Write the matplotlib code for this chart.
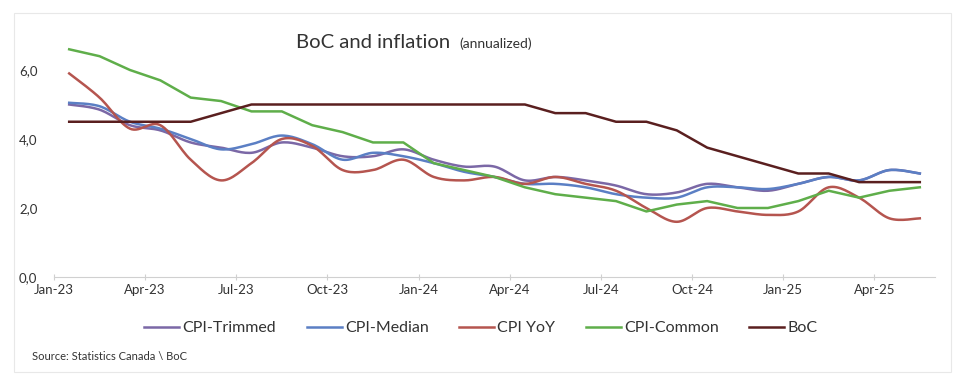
import numpy as np
import matplotlib
matplotlib.use('Agg')
import matplotlib.pyplot as plt
from matplotlib.patches import Rectangle

# monthly, Jan-23 .. May-25
months = ['Jan-23', 'Feb-23', 'Mar-23', 'Apr-23', 'May-23', 'Jun-23',
          'Jul-23', 'Aug-23', 'Sep-23', 'Oct-23', 'Nov-23', 'Dec-23',
          'Jan-24', 'Feb-24', 'Mar-24', 'Apr-24', 'May-24', 'Jun-24',
          'Jul-24', 'Aug-24', 'Sep-24', 'Oct-24', 'Nov-24', 'Dec-24',
          'Jan-25', 'Feb-25', 'Mar-25', 'Apr-25', 'May-25']

cpi_trimmed = [5.0, 4.85, 4.4, 4.25, 3.9, 3.75, 3.6, 3.9, 3.75, 3.5, 3.5, 3.7,
               3.4, 3.2, 3.2, 2.8, 2.9, 2.8, 2.65, 2.4, 2.45, 2.7, 2.6, 2.5,
               2.7, 2.9, 2.8, 3.1, 3.0]
cpi_median = [5.05, 4.95, 4.5, 4.3, 4.0, 3.7, 3.85, 4.1, 3.85, 3.4, 3.6, 3.5,
              3.3, 3.05, 2.9, 2.7, 2.7, 2.6, 2.4, 2.3, 2.3, 2.6, 2.6, 2.55,
              2.7, 2.9, 2.8, 3.1, 3.0]
cpi_yoy = [5.9, 5.2, 4.3, 4.4, 3.4, 2.8, 3.3, 4.0, 3.8, 3.1, 3.1, 3.4,
           2.9, 2.8, 2.9, 2.7, 2.9, 2.7, 2.5, 2.0, 1.6, 2.0, 1.9, 1.8,
           1.9, 2.6, 2.3, 1.7, 1.7]
cpi_common = [6.6, 6.4, 6.0, 5.7, 5.2, 5.1, 4.8, 4.8, 4.4, 4.2, 3.9, 3.9,
              3.3, 3.1, 2.9, 2.6, 2.4, 2.3, 2.2, 1.9, 2.1, 2.2, 2.0, 2.0,
              2.2, 2.5, 2.3, 2.5, 2.6]
boc_rate = [4.5, 4.5, 4.5, 4.5, 4.5, 4.75, 5.0, 5.0, 5.0, 5.0, 5.0, 5.0,
            5.0, 5.0, 5.0, 5.0, 4.75, 4.75, 4.5, 4.5, 4.25, 3.75, 3.5, 3.25,
            3.0, 3.0, 2.75, 2.75, 2.75]

tick_labels = ['Jan-23', 'Apr-23', 'Jul-23', 'Oct-23', 'Jan-24',
               'Apr-24', 'Jul-24', 'Oct-24', 'Jan-25', 'Apr-25']


def smooth(x, y, n=16):
    # excel style smoothed line (catmull-rom bezier)
    x = np.asarray(x, float)
    y = np.asarray(y, float)
    px = np.concatenate([[x[0]], x, [x[-1]]])
    py = np.concatenate([[y[0]], y, [y[-1]]])
    t = np.linspace(0, 1, n)[:, None]
    xs, ys = [], []
    for i in range(1, len(px) - 2):
        pts = []
        for p in (px, py):
            p0, p1, p2, p3 = p[i - 1], p[i], p[i + 1], p[i + 2]
            c1 = p1 + (p2 - p0) / 6
            c2 = p2 - (p3 - p1) / 6
            b = ((1 - t) ** 3 * p1 + 3 * (1 - t) ** 2 * t * c1
                 + 3 * (1 - t) * t ** 2 * c2 + t ** 3 * p2)
            pts.append(b.ravel())
        xs.append(pts[0])
        ys.append(pts[1])
    return np.concatenate(xs), np.concatenate(ys)


plt.rcParams['font.family'] = ['Lato', 'DejaVu Sans']

fig = plt.figure(figsize=(9.66, 3.91), dpi=100)
fig.patches.append(Rectangle((14 / 966, 1 - 372 / 391), (951 - 14) / 966,
                             (372 - 13) / 391, transform=fig.transFigure,
                             fill=False, ec='#e8e8e8', lw=0.8))
ax = fig.add_axes([54 / 966, 1 - 277 / 391, (935 - 54) / 966, (277 - 35.5) / 391])

x = np.arange(len(months)) + 0.5

ax.plot(*smooth(x, cpi_trimmed), color='#7b68a6', lw=1.8, label='CPI-Trimmed')
ax.plot(*smooth(x, cpi_median), color='#5b7fc4', lw=1.8, label='CPI-Median')
ax.plot(*smooth(x, cpi_yoy), color='#b5554f', lw=1.8, label='CPI YoY')
ax.plot(x, cpi_common, color='#5fae4a', lw=1.8, label='CPI-Common')
ax.plot(x, boc_rate, color='#5a1f1f', lw=1.8, label='BoC')

ax.set_xlim(0, 29)
ax.set_ylim(0, 7)
ax.set_xticks(np.arange(0, 28, 3))
ax.set_xticklabels(tick_labels)
ax.set_yticks([0, 2, 4, 6])
ax.set_yticklabels(['0,0', '2,0', '4,0', '6,0'])
ax.tick_params(axis='x', length=4, color='#d0d0d0', direction='inout',
               labelsize=9.5, labelcolor='#333333', pad=3)
ax.tick_params(axis='y', length=0, labelsize=9.5, labelcolor='#333333', pad=12)
for s in ('top', 'right', 'left'):
    ax.spines[s].set_visible(False)
ax.spines['bottom'].set_color('#d0d0d0')

fig.text(296 / 966, 1 - 43 / 391, 'BoC and inflation', fontsize=14.6,
         color='#333333', va='center', ha='left')
fig.text(459 / 966, 1 - 44 / 391, '(annualized)', fontsize=10,
         color='#333333', va='center', ha='left')

fig.legend(loc='center', bbox_to_anchor=(481 / 966, 1 - 328 / 391), ncol=5,
           frameon=False, fontsize=11.5, handlelength=2.2, handletextpad=0.2,
           columnspacing=1.9, labelcolor='#333333')

fig.text(32 / 966, 1 - 356 / 391, 'Source: Statistics Canada \\ BoC',
         fontsize=8, color='#333333', va='center', ha='left')

fig.savefig('out.png', dpi=100)
